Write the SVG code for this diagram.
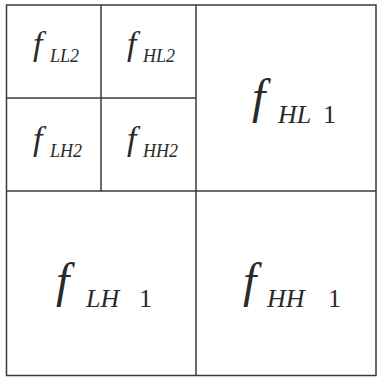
<svg xmlns="http://www.w3.org/2000/svg" width="377" height="377" viewBox="0 0 377 377">
<style>
.ln{stroke:#3a3a3a;stroke-width:1.5;fill:none}
</style>
<rect width="377" height="377" fill="#fff"/>
<g id="connectors">
<rect class="ln" x="6.5" y="5" width="369.5" height="370.5"/>
<line class="ln" x1="101" y1="5" x2="101" y2="191"/>
<line class="ln" x1="196" y1="5" x2="196" y2="375.5"/>
<line class="ln" x1="6.5" y1="98" x2="196" y2="98"/>
<line class="ln" x1="6.5" y1="191" x2="376" y2="191"/>
</g>
<g id="fLL2">
<text font-family="Liberation Serif" font-style="italic" fill="#2a2a2a" font-size="34" x="33" y="55">f</text>
<text font-family="Liberation Serif" font-style="italic" fill="#2a2a2a" font-size="18" x="50" y="62">LL2</text>
</g>
<g id="fHL2">
<text font-family="Liberation Serif" font-style="italic" fill="#2a2a2a" font-size="34" x="127" y="55">f</text>
<text font-family="Liberation Serif" font-style="italic" fill="#2a2a2a" font-size="18" x="143" y="62">HL2</text>
</g>
<g id="fLH2">
<text font-family="Liberation Serif" font-style="italic" fill="#2a2a2a" font-size="34" x="33" y="150">f</text>
<text font-family="Liberation Serif" font-style="italic" fill="#2a2a2a" font-size="18" x="50" y="157">LH2</text>
</g>
<g id="fHH2">
<text font-family="Liberation Serif" font-style="italic" fill="#2a2a2a" font-size="34" x="127" y="150">f</text>
<text font-family="Liberation Serif" font-style="italic" fill="#2a2a2a" font-size="18" x="143" y="157">HH2</text>
</g>
<g id="fHL1">
<text font-family="Liberation Serif" font-style="italic" fill="#2a2a2a" font-size="48" x="252" y="113">f</text>
<text font-family="Liberation Serif" font-style="italic" fill="#2a2a2a" font-size="26" x="278" y="123">HL</text>
<text font-family="Liberation Serif" fill="#2a2a2a" font-size="26" x="323" y="123">1</text>
</g>
<g id="fLH1">
<text font-family="Liberation Serif" font-style="italic" fill="#2a2a2a" font-size="48" x="56" y="297">f</text>
<text font-family="Liberation Serif" font-style="italic" fill="#2a2a2a" font-size="26" x="86" y="307">LH</text>
<text font-family="Liberation Serif" fill="#2a2a2a" font-size="26" x="139" y="307">1</text>
</g>
<g id="fHH1">
<text font-family="Liberation Serif" font-style="italic" fill="#2a2a2a" font-size="48" x="243" y="297">f</text>
<text font-family="Liberation Serif" font-style="italic" fill="#2a2a2a" font-size="26" x="267" y="307">HH</text>
<text font-family="Liberation Serif" fill="#2a2a2a" font-size="26" x="328" y="307">1</text>
</g>
</svg>
